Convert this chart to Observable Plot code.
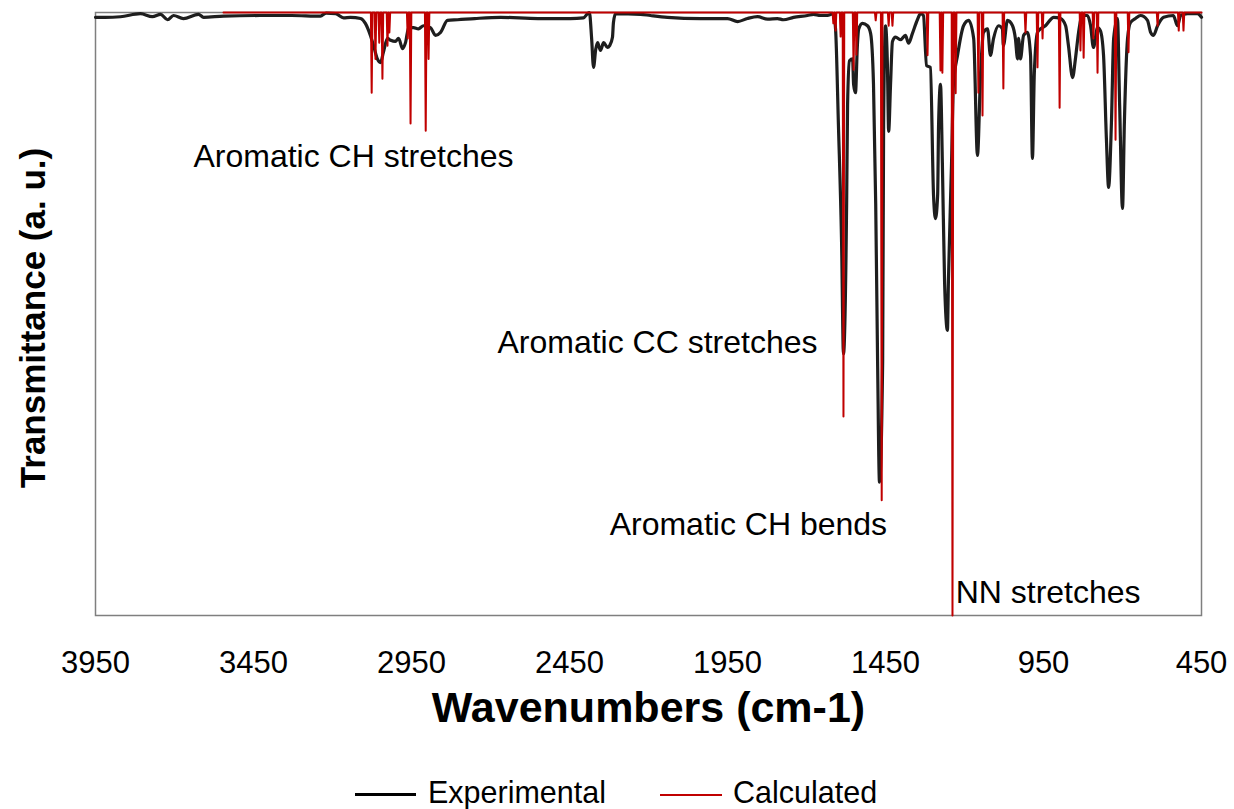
<!DOCTYPE html>
<html>
<head>
<meta charset="utf-8">
<script src="https://cdn.jsdelivr.net/npm/d3@7"></script>
<script src="https://cdn.jsdelivr.net/npm/@observablehq/plot@0.6"></script>
<style>
  html, body { margin: 0; padding: 0; background: #fff; }
  body { width: 1234px; height: 809px; overflow: hidden; font-family: "Liberation Sans", Arial, sans-serif; }
  #legend { position: relative; width: 1234px; height: 59px; }
  .sw { position: absolute; }
  .lt { position: absolute; font-size: 30.5px; line-height: 1; color: #000; transform: translateY(-50%); white-space: nowrap; }
</style>
</head>
<body>
<div id="chart"></div>
<div id="legend">
  <div class="sw" style="left:355px; top:43px; width:61px; height:3px; background:#000;"></div>
  <div class="lt" style="left:428px; top:41.5px;">Experimental</div>
  <div class="sw" style="left:660px; top:43.5px; width:62px; height:2.5px; background:#c00000;"></div>
  <div class="lt" style="left:733px; top:41.5px;">Calculated</div>
</div>
<script>
// ---- Experimental spectrum (wavenumber cm-1, transmittance a.u.) ----
const expWn = [3950, 3920, 3871, 3808, 3770, 3744, 3722, 3703, 3672, 3624, 3608, 3545, 3430, 3330, 3238, 3220, 3190,
  3165, 3143, 3111, 3096, 3080, 3070, 3058, 3048, 3039, 3026, 3016, 3001, 2991, 2978, 2969, 2959, 2944, 2928, 2912, 2890,
  2874, 2858, 2836, 2804, 2750, 2668, 2550, 2447, 2406, 2393, 2387, 2380, 2374, 2367, 2361, 2352, 2342, 2330, 2323, 2314,
  2311, 2304, 2225, 2194, 2140, 2035, 1950, 1918, 1887, 1855, 1823, 1792, 1773, 1741, 1697, 1678, 1656, 1634, 1615, 1608,
  1599, 1589, 1583, 1573, 1570, 1564, 1554, 1551, 1545, 1539, 1535, 1523, 1507, 1497, 1488, 1481, 1475, 1469, 1459, 1456,
  1450, 1444, 1440, 1434, 1428, 1418, 1402, 1387, 1377, 1365, 1349, 1339, 1330, 1320, 1308, 1298, 1292, 1285, 1282, 1276,
  1270, 1263, 1254, 1251, 1241, 1235, 1222, 1203, 1187, 1171, 1159, 1149, 1140, 1127, 1118, 1108, 1092, 1080, 1077, 1064,
  1048, 1039, 1032, 1029, 1023, 1013, 1001, 991, 985, 979, 969, 959, 944, 928, 918, 896, 880, 871, 858, 849, 839, 827,
  811, 801, 792, 779, 770, 760, 751, 744, 735, 728, 716, 709, 700, 694, 684, 675, 659, 643, 621, 611, 602, 589, 570, 539,
  526, 516, 494, 463, 450];
const expT = [99.2, 99.2, 99.3, 99.8, 99.3, 99.7, 98.8, 99.5, 99.0, 99.7, 99.2, 99.4, 99.5, 99.5, 99.4, 99.9, 99.8,
  99.1, 99.2, 99.0, 98.2, 96.2, 94.5, 92.3, 91.7, 93.4, 95.7, 95.4, 95.2, 95.7, 94.0, 95.0, 97.5, 97.5, 97.3, 97.8, 97.5,
  96.2, 96.7, 98.7, 98.8, 99.0, 99.2, 99.0, 99.0, 99.1, 99.8, 100, 95.7, 90.9, 93.9, 95.0, 93.7, 95.0, 94.2, 94.5, 95.9,
  98.3, 99.8, 99.7, 99.5, 99.2, 99.0, 99.0, 98.5, 99.0, 99.3, 98.9, 99.0, 98.8, 99.2, 99.5, 99.7, 99.5, 99.5, 99.8, 97.2,
  81.4, 61.9, 43.4, 68.3, 84.7, 92.0, 92.3, 88.1, 86.7, 94.5, 97.2, 98.2, 97.8, 96.5, 88.1, 68.3, 42.1, 22.1, 42.1, 81.4,
  97.8, 91.4, 80.3, 88.1, 95.2, 95.9, 95.5, 96.2, 94.9, 96.5, 98.8, 99.8, 99.5, 91.2, 90.9, 69.7, 65.8, 69.7, 81.4, 88.1,
  75.0, 55.2, 47.3, 55.2, 75.0, 88.1, 92.9, 97.8, 98.7, 95.7, 76.3, 90.0, 96.7, 97.3, 92.9, 95.7, 97.8, 97.3, 94.5, 98.7,
  97.8, 95.7, 92.3, 95.7, 92.3, 96.2, 96.7, 92.9, 75.8, 90.0, 96.7, 97.3, 97.8, 98.8, 99.2, 99.0, 97.8, 94.5, 89.2, 92.3, 96.7, 99.5,
  99.5, 97.8, 94.2, 97.5, 97.0, 92.9, 79.1, 71.0, 81.8, 95.7, 99.0, 84.6, 67.5, 81.8, 95.7, 98.3, 99.0, 99.5, 98.7, 96.7, 96.2, 97.8, 99.2, 99.5,
  97.8, 99.5, 99.8, 99.8, 99.2];

// ---- Calculated spectrum: range and line positions/intensities ----
const calcRange = [3545, 450];
const calcWn = [3076, 3064, 3052, 3042, 3026, 3020, 2962, 2953, 2905, 2896, 1615, 1608, 1592, 1583, 1551, 1542, 1481, 1462,
  1440, 1428, 1317, 1276, 1270, 1238, 1228, 1156, 1143, 1077, 1007, 969, 953, 899, 833, 823, 792, 779, 722, 681, 589, 522, 507];
const calcT = [86.7, 92.3, 95.0, 89.0, 94.5, 96.7, 95.7, 81.6, 80.4, 92.3, 98.2, 97.0, 96.0, 33.0, 90.5, 93.0, 98.7, 19.1,
  97.8, 97.8, 92.9, 90.4, 90.0, 0, 86.6, 86.7, 82.9, 87.4, 96.7, 90.9, 95.7, 84.2, 93.7, 92.5, 95.7, 90.0, 78.9, 93.4, 97.8, 97.0, 97.0];

// ---- Axis ticks and annotations ----
const xTicks = [3950, 3450, 2950, 2450, 1950, 1450, 950, 450];
const annLabels = ["Aromatic CH stretches", "Aromatic CC stretches", "Aromatic CH bends", "NN stretches"];
const annWn = [3640, 2678, 2323, 1228];
const annT = [76.0, 45.3, 15.1, 3.7];

const expData = expWn.map((w, i) => ({wn: w, t: expT[i]}));
const halfWidth = 2.5;
const calcData = [{wn: calcRange[0], t: 100}];
calcWn.forEach((w, i) => {
  calcData.push({wn: w + halfWidth, t: 100});
  calcData.push({wn: w, t: calcT[i]});
  calcData.push({wn: w - halfWidth, t: 100});
});
calcData.push({wn: calcRange[1], t: 100});
const annData = annLabels.map((s, i) => ({label: s, wn: annWn[i], t: annT[i]}));

const chart = Plot.plot({
  width: 1234,
  height: 750,
  marginLeft: 95,
  marginRight: 33,
  marginTop: 12,
  marginBottom: 135,
  style: {fontFamily: '"Liberation Sans", Arial, sans-serif', color: "#000", background: "#fff"},
  x: {domain: [3950, 450], label: null},
  y: {domain: [0, 100], axis: null},
  marks: [
    Plot.frame({stroke: "#7f7f7f", strokeWidth: 1.5}),
    Plot.axisX({ticks: xTicks, tickSize: 0, tickPadding: 35, fontSize: 31, tickFormat: d => String(d), label: null}),
    Plot.line(expData, {x: "wn", y: "t", stroke: "#1e1e1e", strokeWidth: 3.2, curve: "monotone-x", strokeLinejoin: "round"}),
    Plot.line(calcData, {x: "wn", y: "t", stroke: "#c00000", strokeWidth: 2}),
    Plot.text(annData, {x: "wn", y: "t", text: "label", textAnchor: "start", lineAnchor: "middle", fontSize: 32, fill: "#000"}),
    Plot.text(["Wavenumbers (cm-1)"], {frameAnchor: "bottom", dy: 93, textAnchor: "middle", lineAnchor: "middle", fontSize: 43, fontWeight: "bold", fill: "#000"}),
    Plot.text(["Transmittance (a. u.)"], {frameAnchor: "left", dx: -62, dy: 4, rotate: -90, textAnchor: "middle", lineAnchor: "middle", fontSize: 35, fontWeight: "bold", fill: "#000"})
  ]
});
document.getElementById("chart").appendChild(chart);
</script>
</body>
</html>
